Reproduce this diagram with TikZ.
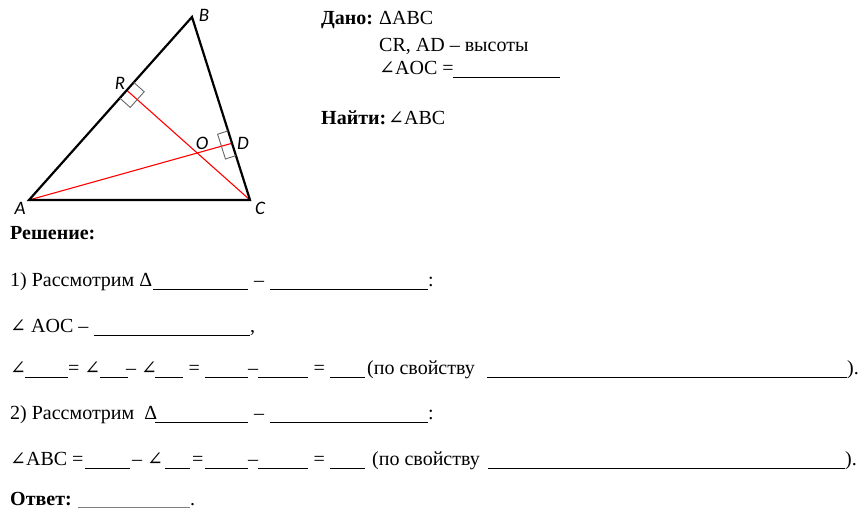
\documentclass[tikz,border=0pt]{standalone}
\usepackage{fontspec}
\setmainfont{Liberation Serif}
\newfontfamily\labelfont{Carlito}
\newfontfamily\symfont{DejaVu Serif}
\usetikzlibrary{calc}
\newcommand{\blank}[1]{\rule[-2.5pt]{#1pt}{0.8pt}}
\newcommand{\seg}[2]{\makebox[#1pt]{#2}}
\newcommand{\segl}[2]{\makebox[#1pt][l]{#2}}
\newcommand{\ang}{{\symfont\fontsize{19}{22}\selectfont ∠}}

\begin{document}
\begin{tikzpicture}[x=1pt, y=-1pt,
    side/.style = {draw=black, line width=2.2pt},
    alt/.style = {draw=red, line width=1.1pt},
    rmark/.style = {draw=gray!80!black, line width=0.9pt},
    lbl/.style = {inner sep=0pt, font=\labelfont\itshape\fontsize{19}{22}\selectfont},
    txt/.style = {anchor=base west, inner sep=0pt, font=\fontsize{20}{24}\selectfont}]

    \useasboundingbox (0,0) rectangle (860,510);

    % triangle
    \coordinate (A) at (29,200);
    \coordinate (B) at (192,17);
    \coordinate (C) at (250,200);
    \coordinate (R) at ($(A)!(C)!(B)$);
    \coordinate (D) at ($(B)!0.69!(C)$);
    \coordinate (O) at (intersection of A--D and C--R);

    \draw[alt] (A) -- (D);
    \draw[alt] (C) -- (R);
    \draw[side] (A) -- (B) -- (C) -- cycle;

    % right angle marks
    \coordinate (r0) at ($(R)!10.5pt!(A)$);
    \coordinate (r1) at ($(R)!10.5pt!(B)$);
    \draw[rmark] (r0) -- ($(r0)!14pt!-90:(R)$) -- ($(r1)!14pt!90:(R)$) -- (r1);
    \coordinate (d0) at ($(D)!13pt!(B)$);
    \coordinate (d1) at ($(D)!13pt!(C)$);
    \draw[rmark] (d0) -- ($(d0)!11pt!-90:(D)$) -- ($(d1)!11pt!90:(D)$) -- (d1);

    \node[lbl] (lA) at (20,208) {A};
    \node[lbl] (lB) at (204,15) {B};
    \node[lbl] (lC) at (260,208) {C};
    \node[lbl] (lR) at (120,83) {R};
    \node[lbl] (lO) at (202,143) {O};
    \node[lbl] (lD) at (243,143) {D};

    % given / find
    \node[txt] (given) at (321,25) {\segl{58}{\textbf{Дано:}}ΔABC};
    \node[txt] (alts) at (379,52) {CR, AD – высоты};
    \node[txt] (aoc) at (379,75) {\segl{74}{\ang AOC =}\blank{107}};
    \node[txt] (find) at (321,125) {\segl{67}{\textbf{Найти:}}\ang ABC};

    % solution
    \node[txt] (sol) at (10,240) {\textbf{Решение:}};
    \node[txt] (s1) at (10,287) {\segl{143}{1) Рассмотрим Δ}\blank{95}\seg{22}{–}\blank{158}:};
    \node[txt] (s2) at (10,333) {\segl{84}{\ang\ AOC –}\blank{156},};
    \node[txt] (s3) at (10,375) {\segl{15}{\ang}\blank{43}\seg{32}{= \ang}\blank{28}\seg{27}{– \ang}\blank{28}\seg{22}{=}\blank{43}\seg{10}{–}\blank{50}\seg{22}{=}\blank{35}\segl{122}{\hspace{2pt}(по свойству}\blank{360}).};
    \node[txt] (s4) at (10,420) {\segl{145}{2) Рассмотрим \ Δ}\blank{93}\seg{22}{–}\blank{158}:};
    \node[txt] (s5) at (10,466) {\segl{75}{\ang ABC =}\blank{45}\seg{35}{– \ang}\blank{25}\seg{15}{=}\blank{43}\seg{10}{–}\blank{50}\seg{22}{=}\blank{35}\segl{123}{\hspace{7pt}(по свойству}\blank{357}).};
    \node[txt] (ans) at (10,506) {\segl{68}{\textbf{Ответ:}}{\color{gray}\rule[-1.5pt]{112pt}{0.5pt}}.};
\end{tikzpicture}
\end{document}
